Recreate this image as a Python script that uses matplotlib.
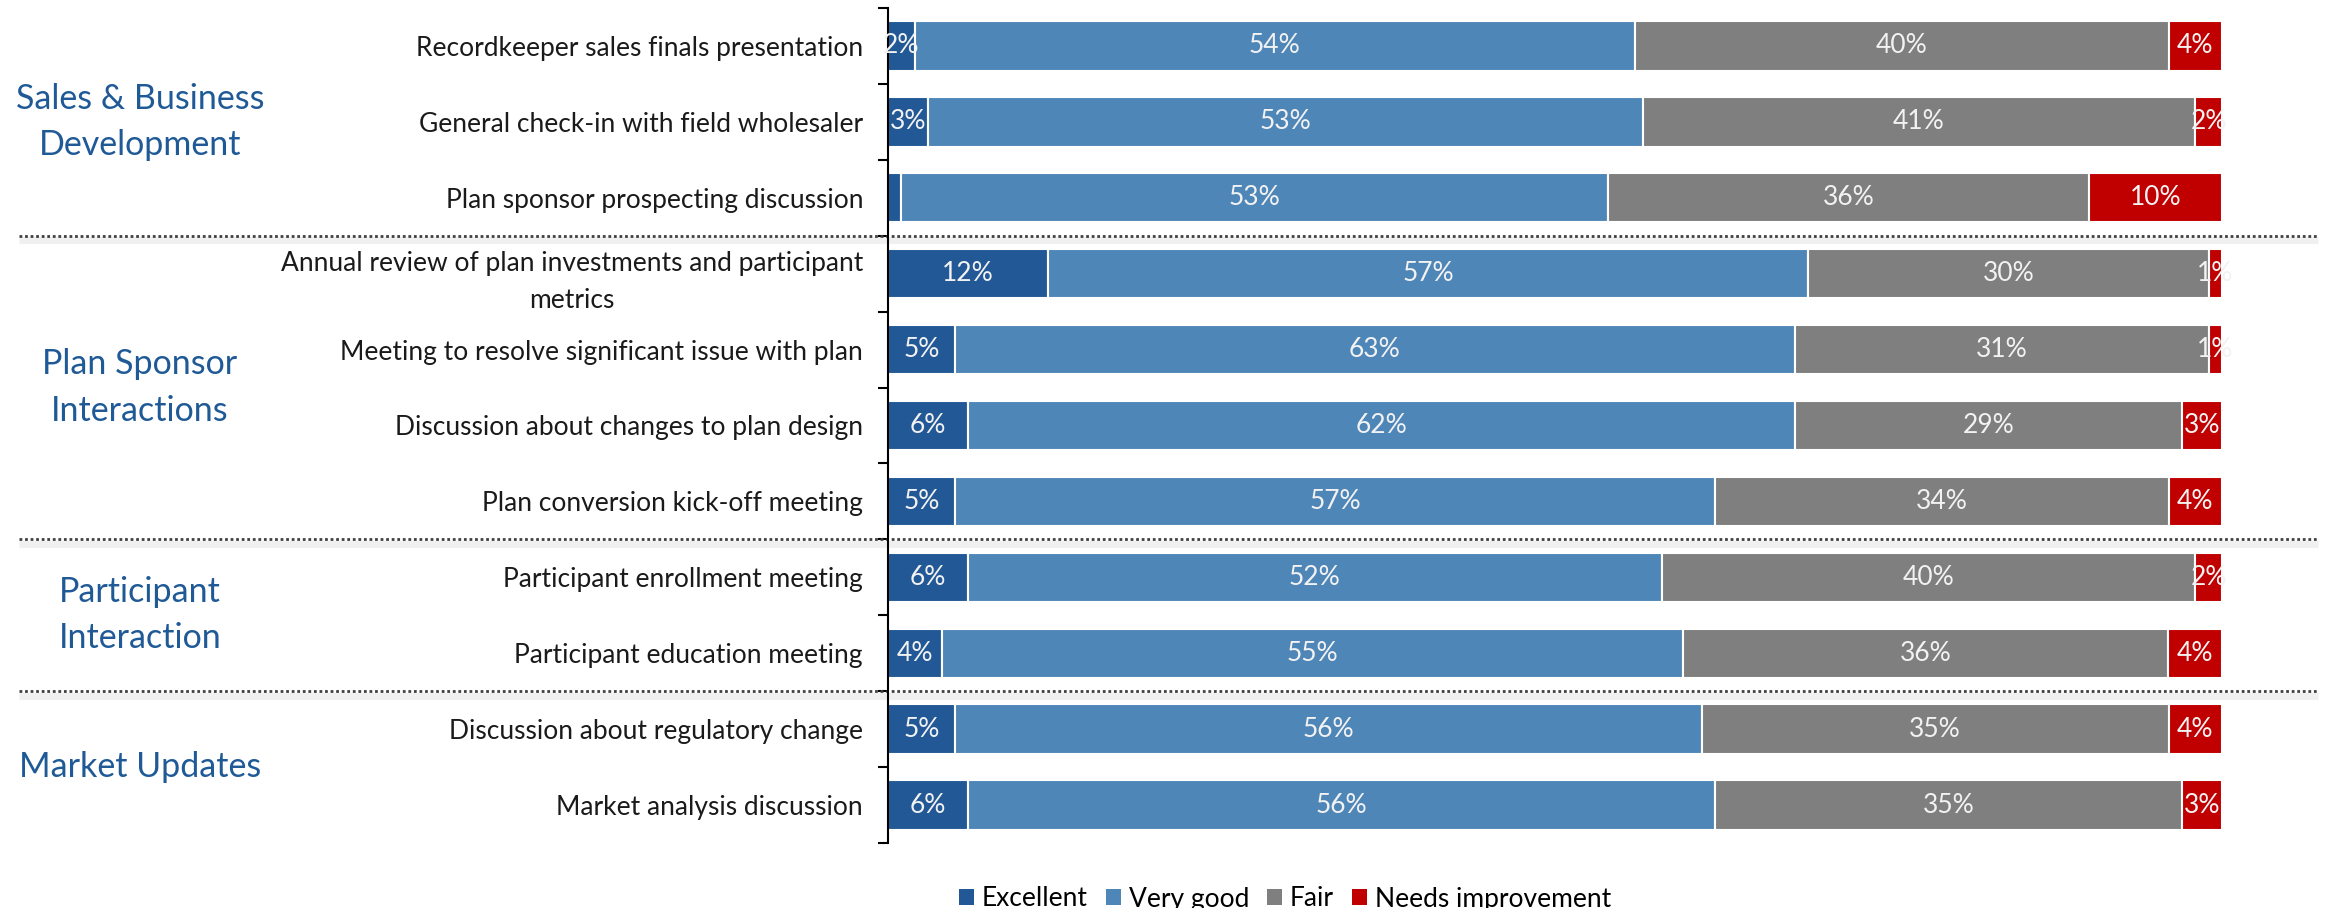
import matplotlib
matplotlib.use("Agg")
import matplotlib.pyplot as plt
import matplotlib.transforms as mtransforms
from matplotlib.patches import Patch
import numpy as np

plt.rcParams['font.family'] = ['Lato', 'DejaVu Sans']

# Survey items, top to bottom
categories = [
    "Recordkeeper sales finals presentation",
    "General check-in with field wholesaler",
    "Plan sponsor prospecting discussion",
    "Annual review of plan investments and participant\nmetrics",
    "Meeting to resolve significant issue with plan",
    "Discussion about changes to plan design",
    "Plan conversion kick-off meeting",
    "Participant enrollment meeting",
    "Participant education meeting",
    "Discussion about regulatory change",
    "Market analysis discussion",
]

# Rating shares (%) per item
excellent = [2, 3, 1, 12, 5, 6, 5, 6, 4, 5, 6]
very_good = [54, 53, 53, 57, 63, 62, 57, 52, 55, 56, 56]
fair = [40, 41, 36, 30, 31, 29, 34, 40, 36, 35, 35]
needs_improvement = [4, 2, 10, 1, 1, 3, 4, 2, 4, 4, 3]

series_names = ["Excellent", "Very good", "Fair", "Needs improvement"]
series_colors = ["#215895", "#4F86B8", "#7F7F7F", "#C00000"]

# Segments whose value is not printed (too narrow)
unlabeled = {(0, 2)}

# Topic groups: (title, first row, last row)
group_titles = ["Sales & Business\nDevelopment", "Plan Sponsor\nInteractions",
                "Participant\nInteraction", "Market Updates"]
group_first = [0, 3, 7, 9]
group_last = [2, 6, 8, 10]

W, H = 2328, 908
fig = plt.figure(figsize=(W / 100, H / 100), dpi=100)
ax = fig.add_axes([888 / W, 1 - 843 / H, (2222 - 888) / W, (843 - 8) / H])

series = [np.array(excellent, float), np.array(very_good, float),
          np.array(fair, float), np.array(needs_improvement, float)]
totals = sum(series)
y = np.arange(len(categories))
left = np.zeros(len(categories))
for si, (vals, color) in enumerate(zip(series, series_colors)):
    widths = vals / totals * 100.0
    ax.barh(y, widths, left=left, height=0.65, color=color,
            edgecolor="white", linewidth=1.5, label=series_names[si])
    for ri in range(len(categories)):
        if (si, ri) in unlabeled:
            continue
        ax.text(left[ri] + widths[ri] / 2, y[ri], f"{int(vals[ri])}%",
                ha="center", va="center", color="#F2F2F2", fontsize=19)
    left = left + widths

ax.set_xlim(0, 100)
ax.set_ylim(len(categories) - 0.5, -0.5)
ax.set_xticks([])
ax.set_yticks(y)
ax.set_yticklabels(categories, fontsize=19, color="#1A1A1A",
                   multialignment="center", linespacing=1.6)
ax.set_yticks(np.arange(-0.5, len(categories)), minor=True)
ax.tick_params(axis="y", which="major", length=0, pad=18)
ax.tick_params(axis="y", which="minor", length=7, width=1.5, color="black", direction="out")
for side in ("top", "right", "bottom"):
    ax.spines[side].set_visible(False)
ax.spines["left"].set_linewidth(1.5)
ax.spines["left"].set_color("black")

# Group titles and dotted separators spanning the full width
blend = mtransforms.blended_transform_factory(fig.transFigure, ax.transData)
for title, a, b in zip(group_titles, group_first, group_last):
    ax.text(140 / W, (a + b) / 2, title, transform=blend, ha="center", va="center",
            fontsize=24.5, color="#1F5A96", linespacing=1.55, clip_on=False)
for b in group_last[:-1]:
    yy = b + 0.5
    ax.plot([19 / W, 2318 / W], [yy + 0.06, yy + 0.06], transform=blend, color="#E6E6E6",
            linewidth=5, alpha=0.6, clip_on=False, solid_capstyle="butt")
    ax.plot([19 / W, 2318 / W], [yy, yy], transform=blend, color="#404040",
            linewidth=2, linestyle=(0, (1, 1)), clip_on=False)

handles = [Patch(facecolor=c, edgecolor="none") for c in series_colors]
fig.legend(handles, series_names, loc="center", bbox_to_anchor=(0.552, 1 - 899 / H),
           ncol=4, frameon=False, fontsize=19, handlelength=0.55, handleheight=0.55,
           handletextpad=0.3, columnspacing=0.7)

fig.savefig("out.png", dpi=100)
